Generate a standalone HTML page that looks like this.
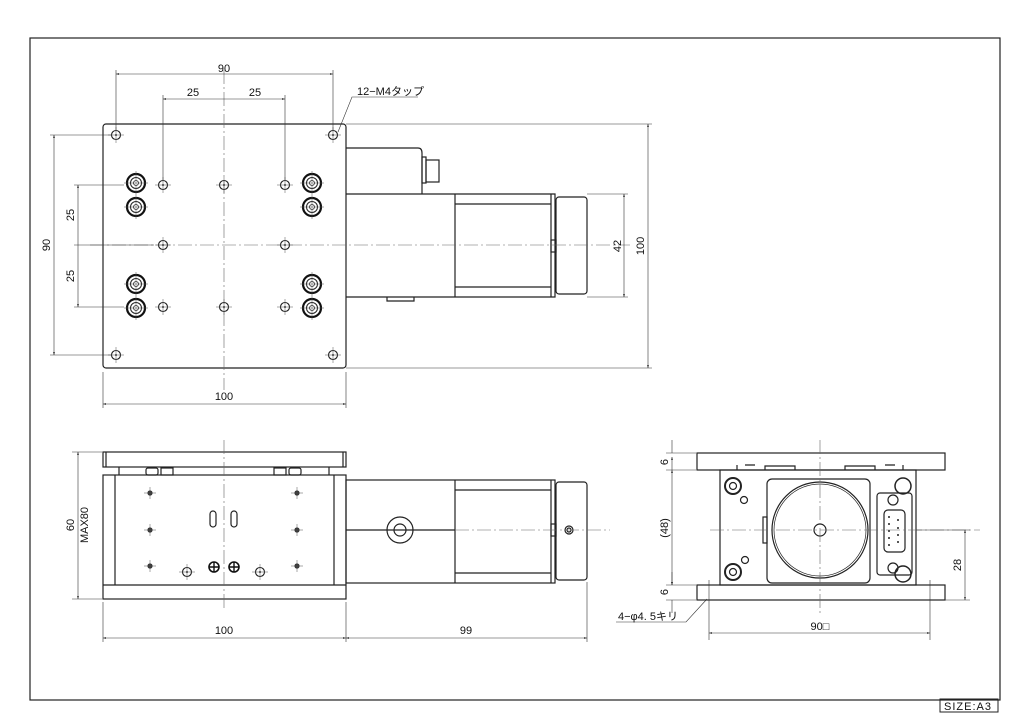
<!DOCTYPE html>
<html><head><meta charset="utf-8"><style>html,body{margin:0;padding:0;background:#fff}svg{display:block}text{font-family:"Liberation Sans","Noto Sans CJK JP",sans-serif;font-size:11px;fill:#111}</style></head><body>
<svg width="1024" height="724" viewBox="0 0 1024 724" xmlns="http://www.w3.org/2000/svg">
<defs>
<marker id="a" viewBox="0 0 10 10" refX="10" refY="5" markerWidth="7" markerHeight="5" orient="auto-start-reverse"><path d="M0,2 L10,5 L0,8z" fill="#222"/></marker>
<g id="sh"><circle r="4.5" fill="none" stroke="#222" stroke-width="1.1"/><circle r="1" fill="#222"/><path d="M-8,0h16M0,-8v16" stroke="#555" stroke-width="0.5"/></g>
<g id="cb"><circle r="9" fill="none" stroke="#111" stroke-width="2.2"/><circle r="5.5" fill="none" stroke="#222" stroke-width="1"/><circle r="2.5" fill="none" stroke="#222" stroke-width="0.8"/><path d="M-12,0h24M0,-12v24" stroke="#555" stroke-width="0.5"/></g>
<g id="dh"><circle r="2.6" fill="#333"/><path d="M-6,0h12M0,-6v12" stroke="#555" stroke-width="0.5"/></g>
</defs>
<rect x="30" y="38" width="970" height="662" fill="none" stroke="#222" stroke-width="1.2"/>
<rect x="940" y="699" width="58" height="13" fill="none" stroke="#222"/>
<text x="944" y="710" font-size="10" letter-spacing="1">SIZE:A3</text>

<g fill="none" stroke="#222" stroke-width="1.2">
<!-- TOP VIEW -->
<rect x="103" y="124" width="243" height="244" rx="3"/>
<path d="M346,148h72q4,0 4,5v41M346,194h209v103h-209M455,194v103M455,204h96M455,287h96M551,194v103M387,297v4h27v-4"/>
<rect x="422" y="157" width="4" height="26"/><rect x="426" y="160" width="13" height="22"/>
<rect x="556" y="197" width="31" height="97" rx="3"/>
<rect x="551" y="240" width="5" height="12"/>
</g>
<g stroke="#666" stroke-width="0.6" stroke-dasharray="14,3,2,3" fill="none">
<path d="M224,70v320M90,245h540"/>
</g>
<g>
<use href="#sh" x="116" y="135"/><use href="#sh" x="333" y="135"/><use href="#sh" x="116" y="355"/><use href="#sh" x="333" y="355"/>
<use href="#sh" x="163" y="185"/><use href="#sh" x="224" y="185"/><use href="#sh" x="285" y="185"/>
<use href="#sh" x="163" y="245"/><use href="#sh" x="285" y="245"/>
<use href="#sh" x="163" y="307"/><use href="#sh" x="224" y="307"/><use href="#sh" x="285" y="307"/>
<use href="#cb" x="136" y="183"/><use href="#cb" x="136" y="207"/><use href="#cb" x="312" y="183"/><use href="#cb" x="312" y="207"/>
<use href="#cb" x="136" y="284"/><use href="#cb" x="136" y="308"/><use href="#cb" x="312" y="284"/><use href="#cb" x="312" y="308"/>
</g>
<g stroke="#333" stroke-width="0.6" fill="none">
<path d="M116,70v60M333,70v60M163,95v85M285,95v85"/>
<path d="M116,74H333" marker-start="url(#a)" marker-end="url(#a)"/>
<path d="M163,99H285" marker-start="url(#a)" marker-end="url(#a)"/>
<path d="M50,135h62M50,355h62M74,185h50M74,245h80M74,307h50"/>
<path d="M54,135V355" marker-start="url(#a)" marker-end="url(#a)"/>
<path d="M78,185V307" marker-start="url(#a)" marker-end="url(#a)"/>
<path d="M103,372v36M346,372v36"/>
<path d="M103,404H346" marker-start="url(#a)" marker-end="url(#a)"/>
<path d="M346,124h306M346,368h306M587,194h41M587,297h41"/>
<path d="M648,124V368" marker-start="url(#a)" marker-end="url(#a)"/>
<path d="M624,194V297" marker-start="url(#a)" marker-end="url(#a)"/>
<path d="M338,132L352,97h66"/>
</g>
<text x="224" y="72" text-anchor="middle">90</text>
<text x="193" y="96" text-anchor="middle">25</text><text x="255" y="96" text-anchor="middle">25</text>
<text x="357" y="95" font-size="10">12−M4タップ</text>
<text transform="translate(50,245) rotate(-90)" text-anchor="middle">90</text>
<text transform="translate(74,215) rotate(-90)" text-anchor="middle">25</text>
<text transform="translate(74,276) rotate(-90)" text-anchor="middle">25</text>
<text x="224" y="400" text-anchor="middle">100</text>
<text transform="translate(644,246) rotate(-90)" text-anchor="middle">100</text>
<text transform="translate(621,246) rotate(-90)" text-anchor="middle">42</text>

<!-- SIDE VIEW -->
<g fill="none" stroke="#222" stroke-width="1.2">
<rect x="103" y="452" width="243" height="15"/><path d="M106,452v15M343,452v15"/>
<path d="M119,467v8M329,467v8"/>
<rect x="103" y="475" width="243" height="124"/>
<path d="M103,585h243M115,475v110M334,475v110"/>
<rect x="346" y="480" width="209" height="103"/>
<path d="M455,480v103M455,490h96M455,573h96M551,480v103M346,530h109"/>
<rect x="556" y="482" width="31" height="98" rx="3"/>
<rect x="551" y="524" width="5" height="12"/>
<circle cx="400" cy="530" r="13"/><circle cx="400" cy="530" r="6"/>
<circle cx="569" cy="530" r="4"/><circle cx="569" cy="530" r="2"/>
<rect x="146" y="468" width="12" height="7" rx="2"/><rect x="161" y="468" width="12" height="7"/>
<rect x="274" y="468" width="12" height="7"/><rect x="289" y="468" width="12" height="7" rx="2"/>
<rect x="210" y="511" width="6" height="16" rx="3"/><rect x="231" y="511" width="6" height="16" rx="3"/>
</g>
<g><use href="#dh" x="150" y="493"/><use href="#dh" x="150" y="530"/><use href="#dh" x="150" y="566"/>
<use href="#dh" x="297" y="493"/><use href="#dh" x="297" y="530"/><use href="#dh" x="297" y="566"/>
<use href="#sh" x="187" y="572"/><use href="#sh" x="260" y="572"/>
<circle cx="214" cy="567" r="5" fill="none" stroke="#111" stroke-width="1.6"/><circle cx="234" cy="567" r="5" fill="none" stroke="#111" stroke-width="1.6"/>
<path d="M209,567h10M214,562v10M229,567h10M234,562v10" stroke="#111" stroke-width="1.4"/></g>
<g stroke="#666" stroke-width="0.6" stroke-dasharray="14,3,2,3" fill="none"><path d="M224,440v170M455,530h155"/></g>
<g stroke="#333" stroke-width="0.6" fill="none">
<path d="M72,452h30M72,599h30"/>
<path d="M78,452V599" marker-start="url(#a)" marker-end="url(#a)"/>
<path d="M103,602v40M346,602v40M587,582v60"/>
<path d="M103,638H346" marker-start="url(#a)" marker-end="url(#a)"/>
<path d="M346,638H587" marker-start="url(#a)" marker-end="url(#a)"/>
</g>
<text transform="translate(74,525) rotate(-90)" text-anchor="middle">60</text>
<text transform="translate(88,525) rotate(-90)" text-anchor="middle" font-size="10">MAX80</text>
<text x="224" y="634" text-anchor="middle">100</text>
<text x="466" y="634" text-anchor="middle">99</text>

<!-- END VIEW -->
<g fill="none" stroke="#222" stroke-width="1.2">
<rect x="697" y="453" width="248" height="17"/>
<rect x="720" y="470" width="196" height="115"/>
<rect x="697" y="585" width="248" height="15"/>
<path d="M737,465v5M903,465v5M745,465h10M885,465h10M765,470v-4h30v4M845,470v-4h30v4"/>
<rect x="767" y="479" width="103" height="104" rx="5"/>
<circle cx="820" cy="530" r="48"/><circle cx="820" cy="530" r="46" stroke-width="0.7"/>
<circle cx="820" cy="530" r="6"/>
<rect x="763" y="517" width="4" height="26"/>
<rect x="877" y="493" width="35" height="82" rx="3"/>
<rect x="884" y="510" width="21" height="42" rx="4"/>
<circle cx="893" cy="500" r="5"/><circle cx="893" cy="568" r="5"/>
<circle cx="733" cy="486" r="8" stroke-width="2"/><circle cx="733" cy="486" r="3.5"/>
<circle cx="733" cy="572" r="8" stroke-width="2"/><circle cx="733" cy="572" r="3.5"/>
<circle cx="903" cy="486" r="8" stroke-width="1.5"/><circle cx="903" cy="574" r="8" stroke-width="1.5"/>
<circle cx="744" cy="500" r="3.5"/><circle cx="745" cy="560" r="3.5"/>
</g>
<g fill="#222"><circle cx="889" cy="517" r="1"/><circle cx="889" cy="524" r="1"/><circle cx="889" cy="531" r="1"/><circle cx="889" cy="538" r="1"/><circle cx="889" cy="545" r="1"/><circle cx="898" cy="520" r="1"/><circle cx="898" cy="528" r="1"/><circle cx="898" cy="535" r="1"/><circle cx="898" cy="542" r="1"/></g>
<g stroke="#666" stroke-width="0.6" stroke-dasharray="14,3,2,3" fill="none"><path d="M820,440v175M710,530h270"/></g>
<g stroke="#333" stroke-width="0.6" fill="none">
<path d="M666,453h30M666,470h30M666,585h30M666,600h30"/>
<path d="M672,440v13M672,470v-13" marker-end="url(#a)"/>
<path d="M672,470V585" marker-start="url(#a)" marker-end="url(#a)"/>
<path d="M672,613V600M672,572v13" marker-end="url(#a)"/>
<path d="M916,530h54M945,600h25"/>
<path d="M965,530V600" marker-start="url(#a)" marker-end="url(#a)"/>
<path d="M709,580v60M930,580v60"/>
<path d="M709,633H930" marker-start="url(#a)" marker-end="url(#a)"/>
<path d="M707,599L686,622h-70"/>
</g>
<text transform="translate(668,462) rotate(-90)" text-anchor="middle" font-size="10">6</text>
<text transform="translate(668,528) rotate(-90)" text-anchor="middle" font-size="10">(48)</text>
<text transform="translate(668,592) rotate(-90)" text-anchor="middle" font-size="10">6</text>
<text transform="translate(961,565) rotate(-90)" text-anchor="middle">28</text>
<text x="820" y="630" text-anchor="middle">90□</text>
<text x="618" y="620" font-size="10">4−φ4. 5キリ</text>
</svg>
</body></html>
